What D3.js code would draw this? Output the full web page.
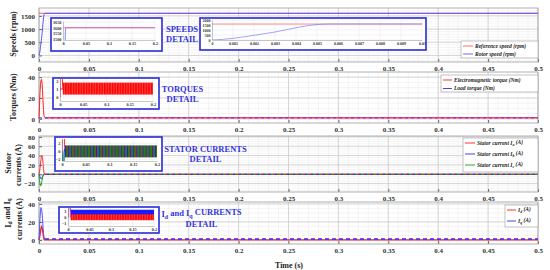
<!DOCTYPE html>
<html lang="en">
<head>
    <meta charset="UTF-8">
    <title>PMSM start-up: speeds, torques and currents</title>
    <script type="text/javascript" src="https://d3js.org/d3.v7.min.js"></script>
    <style>
        body { margin: 0; background: #fff; }
        svg { display: block; }
        text { font-family: "Liberation Serif", "Times New Roman", serif; font-weight: bold; }
    </style>
</head>
<body>
    <script>
        /* =========================== data ================================ */
        const tTicks = [0, 0.05, 0.1, 0.15, 0.2, 0.25, 0.3, 0.35, 0.4, 0.45, 0.5];
        const speedTicks = [0, 500, 1000, 1500];
        const torqueTicks = [0, 20, 40];
        const statorTicks = [-20, 0, 20, 40, 60, 80];
        const dqTicks = [0, 20, 40];

        // detail windows
        const detailTicks = [0, 0.05, 0.1, 0.15, 0.2];
        const startTicks = [0, 0.001, 0.002, 0.003, 0.004, 0.005, 0.006, 0.007, 0.008, 0.009, 0.01];
        const speedDetailTicks = [1500, 1550, 1600, 1650];
        const speedStartTicks = [0, 500, 1000, 1500, 2000];
        const torqueDetailTicks = [0, 1, 2];
        const statorDetailTicks = [-2, 0, 2];
        const dqDetailTicks = [-1, 0, 1];

        // start-up transient (s)
        const tStart    = [0, 0.0005, 0.001, 0.0015, 0.002, 0.0025, 0.003, 0.0035, 0.004, 0.0045, 0.005, 0.0055, 0.006];
        const rotorSpeed = [0, 60, 170, 310, 470, 630, 800, 1010, 1230, 1420, 1550, 1595, 1600];
        const emTorque   = [0, 12, 25, 33, 37, 38, 35, 28, 18, 9, 3, 1.5, 1];
        const statorIa   = [0, 5, 12, 22, 32, 38, 40, 36, 25, 12, 4, 1, 0];
        const statorIb   = [0, -2, -5, -8, -10, -10, -8, -5, -2, 0, 0.5, 0, 0];
        const statorIc   = [0, -12, -20, -25, -24, -20, -14, -8, -4, -1, 0, 0, 0];
        const currentId  = [0, 2, 5, 9, 13, 15, 14, 11, 7, 3, 1, 0, 0];
        const currentIq  = [0, 10, 24, 33, 36, 35, 31, 24, 15, 7, 3, 1.5, 1];

        // steady state after start-up (min, max of the ripple)
        const tSteady = 0.006;
        const refSpeed = 1600;
        const loadTorque = 1;
        const emTorqueBand = [0.3, 1.8];
        const statorBand = [-1.5, 1.5];
        const idBand = [-0.5, 0.5];
        const iqBand = [0.4, 1.3];

        const RED = "#ff1e1e", BLUE = "#2b2bff", GREEN = "#12a012", FRAME_BLUE = "#3535dc";

        /* =========================== svg ================================ */
        const svg = d3.select("body").append("svg")
                      .attr("width", 550)
                      .attr("height", 270);
        const defs = svg.append("defs");

        const x = d3.scaleLinear().domain([0, 0.5]).range([39, 538]);
        const fmt = d3.format("~g");
        const line = (xs, ys) => d3.line().x(d => xs(d[0])).y(d => ys(d[1]));
        const pts = (vals, tail) => tStart.map((t, i) => [t, vals[i]]).concat(tail ? [tail] : []);

        function addParts(t, parts) {
            let low = false;
            parts.forEach(([s, sub]) => {
                const ts = t.append("tspan").text(s);
                if (sub) {
                    ts.attr("font-size", "70%");
                    if (!low) { ts.attr("dy", "0.3em"); low = true; }
                } else if (low) {
                    ts.attr("dy", "-0.3em"); low = false;
                }
            });
            return t;
        }

        function drawPanel(p) {
            const y = d3.scaleLinear().domain(p.domain).range([p.bottom, p.top]);
            const g = svg.append("g");
            g.append("rect")
             .attr("x", x(0)).attr("y", p.top)
             .attr("width", x(0.5) - x(0)).attr("height", p.bottom - p.top)
             .attr("fill", "#fff");

            // minor grid
            g.append("g").selectAll("line")
             .data(d3.range(1, 50).map(i => i / 100))
             .join("line")
             .attr("x1", d => x(d)).attr("x2", d => x(d))
             .attr("y1", p.top).attr("y2", p.bottom)
             .attr("stroke", "#ececec").attr("stroke-width", 0.6);
            const first = Math.ceil(p.domain[0] / p.minor) * p.minor;
            g.append("g").selectAll("line")
             .data(d3.range(first, p.domain[1], p.minor))
             .join("line")
             .attr("x1", x(0)).attr("x2", x(0.5))
             .attr("y1", d => y(d)).attr("y2", d => y(d))
             .attr("stroke", "#ececec").attr("stroke-width", 0.6);

            // major grid
            g.append("g").selectAll("line")
             .data(tTicks)
             .join("line")
             .attr("x1", d => x(d)).attr("x2", d => x(d))
             .attr("y1", p.top).attr("y2", p.bottom)
             .attr("stroke", "#cdcdcd").attr("stroke-width", 0.8);
            g.append("g").selectAll("line")
             .data(p.ticks)
             .join("line")
             .attr("x1", x(0)).attr("x2", x(0.5))
             .attr("y1", d => y(d)).attr("y2", d => y(d))
             .attr("stroke", "#cdcdcd").attr("stroke-width", 0.8);

            const ax = g.append("g")
                        .attr("transform", `translate(0,${p.bottom})`)
                        .call(d3.axisBottom(x).tickValues(tTicks).tickFormat(fmt).tickSize(-3).tickPadding(4));
            const ay = g.append("g")
                        .attr("transform", `translate(${x(0)},0)`)
                        .call(d3.axisLeft(y).tickValues(p.ticks).tickFormat(fmt).tickSize(-3).tickPadding(4));
            [ax, ay].forEach(a => {
                a.select(".domain").remove();
                a.selectAll("line").attr("stroke", "#666");
                a.selectAll("text")
                 .attr("font-size", 7)
                 .attr("fill", "#333")
                 .attr("font-family", "Liberation Serif, serif")
                 .attr("font-weight", "bold");
            });

            g.append("rect")
             .attr("x", x(0)).attr("y", p.top)
             .attr("width", x(0.5) - x(0)).attr("height", p.bottom - p.top)
             .attr("fill", "none").attr("stroke", "#9c9c9c").attr("stroke-width", 0.8);
            return { g: svg.append("g"), y };
        }

        function drawInset(c) {
            const g = svg.append("g");
            g.append("rect")
             .attr("x", c.box[0]).attr("y", c.box[1])
             .attr("width", c.box[2] - c.box[0]).attr("height", c.box[3] - c.box[1])
             .attr("fill", "#fff").attr("stroke", FRAME_BLUE).attr("stroke-width", 1.7);
            const xi = d3.scaleLinear().domain(c.xdom).range([c.plot[0], c.plot[2]]);
            const yi = d3.scaleLinear().domain(c.ydom).range([c.plot[3], c.plot[1]]);

            g.append("g").selectAll("line").data(c.xticks).join("line")
             .attr("x1", d => xi(d)).attr("x2", d => xi(d))
             .attr("y1", c.plot[1]).attr("y2", c.plot[3])
             .attr("stroke", "#e4e4e4").attr("stroke-width", 0.5);
            g.append("g").selectAll("line").data(c.yticks).join("line")
             .attr("x1", c.plot[0]).attr("x2", c.plot[2])
             .attr("y1", d => yi(d)).attr("y2", d => yi(d))
             .attr("stroke", "#e4e4e4").attr("stroke-width", 0.5);

            const ax = g.append("g")
                        .attr("transform", `translate(0,${c.plot[3]})`)
                        .call(d3.axisBottom(xi).tickValues(c.xticks).tickFormat(fmt).tickSize(0).tickPadding(2));
            const ay = g.append("g")
                        .attr("transform", `translate(${c.plot[0]},0)`)
                        .call(d3.axisLeft(yi).tickValues(c.yticks).tickFormat(fmt).tickSize(0).tickPadding(1.5));
            [ax, ay].forEach(a => {
                a.select(".domain").attr("stroke", "#777").attr("stroke-width", 0.4);
                a.selectAll("text")
                 .attr("font-size", c.font || 4.3)
                 .attr("fill", "#333")
                 .attr("font-family", "Liberation Serif, serif")
                 .attr("font-weight", "bold");
            });

            defs.append("clipPath").attr("id", c.id)
                .append("rect")
                .attr("x", c.plot[0]).attr("y", c.plot[1])
                .attr("width", c.plot[2] - c.plot[0]).attr("height", c.plot[3] - c.plot[1]);
            const body = svg.append("g").attr("clip-path", `url(#${c.id})`);
            return { body, xi, yi };
        }

        function drawLegend(box, rows, lineX, textX, items) {
            svg.append("rect")
               .attr("x", box[0]).attr("y", box[1])
               .attr("width", box[2] - box[0]).attr("height", box[3] - box[1])
               .attr("fill", "#fff").attr("stroke", "#9a9a9a").attr("stroke-width", 0.6);
            items.forEach((it, i) => {
                svg.append("line")
                   .attr("x1", lineX[0]).attr("x2", lineX[1])
                   .attr("y1", rows[i]).attr("y2", rows[i])
                   .attr("stroke", it.color).attr("stroke-width", 0.9);
                const t = svg.append("text")
                             .attr("x", textX).attr("y", rows[i])
                             .attr("dy", "0.33em")
                             .attr("font-size", 5.5)
                             .attr("font-style", "italic")
                             .attr("fill", "#222");
                addParts(t, it.parts);
            });
        }

        function detailLabel(cx, y1, parts) {
            const t = svg.append("text")
                         .attr("x", cx).attr("y", y1)
                         .attr("text-anchor", "middle")
                         .attr("font-size", 8.5)
                         .attr("fill", FRAME_BLUE);
            addParts(t, parts);
            svg.append("text")
               .attr("x", cx).attr("y", y1 + 10)
               .attr("text-anchor", "middle")
               .attr("font-size", 8.5)
               .attr("fill", FRAME_BLUE)
               .text("DETAIL");
        }

        function yTitle(cx, cy, parts) {
            const t = svg.append("text")
                         .attr("transform", `translate(${cx},${cy}) rotate(-90)`)
                         .attr("text-anchor", "middle")
                         .attr("dominant-baseline", "central")
                         .attr("font-size", 8)
                         .attr("fill", "#222");
            addParts(t, parts);
        }

        /* =========================== 1. speeds ================================ */
        const p1 = drawPanel({ top: 8, bottom: 62, domain: [-250, 1800], ticks: speedTicks, minor: 100 });
        p1.g.append("path").datum([[0, refSpeed], [0.5, refSpeed]])
            .attr("d", line(x, p1.y)).attr("fill", "none").attr("stroke", "#ff5a5a").attr("stroke-width", 1);
        p1.g.append("path").datum(pts(rotorSpeed, [0.5, refSpeed]))
            .attr("d", line(x, p1.y)).attr("fill", "none").attr("stroke", "#5a5aff").attr("stroke-width", 1);

        const i1 = drawInset({ id: "c1", box: [51, 18, 162, 51], plot: [63, 21, 155, 40],
                               xdom: [0, 0.2], ydom: [1490, 1660], xticks: detailTicks, yticks: speedDetailTicks });
        i1.body.append("path").datum(pts(rotorSpeed, [0.2, refSpeed]))
            .attr("d", line(i1.xi, i1.yi)).attr("fill", "none").attr("stroke", "#6a6aff").attr("stroke-width", 0.8);
        i1.body.append("path").datum([[0, refSpeed], [0.2, refSpeed]])
            .attr("d", line(i1.xi, i1.yi)).attr("fill", "none").attr("stroke", "#ff6a8a").attr("stroke-width", 0.8);

        const i2 = drawInset({ id: "c2", box: [200, 18, 426, 50], plot: [212, 20, 422, 40], font: 4,
                               xdom: [0, 0.01], ydom: [0, 2000], xticks: startTicks, yticks: speedStartTicks });
        i2.body.append("path").datum([[0, refSpeed], [0.01, refSpeed]])
            .attr("d", line(i2.xi, i2.yi)).attr("fill", "none").attr("stroke", "#ff7070").attr("stroke-width", 0.8);
        i2.body.append("path").datum(pts(rotorSpeed, [0.01, refSpeed]))
            .attr("d", line(i2.xi, i2.yi)).attr("fill", "none").attr("stroke", "#8a8aff").attr("stroke-width", 0.8);

        detailLabel(182, 32, [["SPEEDS", false]]);
        drawLegend([461, 41, 538, 58], [46, 54], [463, 473], 475, [
            { color: "#ff5a5a", parts: [["Reference speed (rpm)", false]] },
            { color: "#5a5aff", parts: [["Rotor speed (rpm)", false]] }
        ]);

        /* =========================== 2. torques ================================ */
        const p2 = drawPanel({ top: 72, bottom: 123, domain: [-4, 45], ticks: torqueTicks, minor: 5 });
        p2.g.append("path").datum(pts(emTorque))
            .attr("d", line(x, p2.y)).attr("fill", "none").attr("stroke", RED).attr("stroke-width", 1);
        p2.g.append("rect")
            .attr("x", x(tSteady)).attr("width", x(0.5) - x(tSteady))
            .attr("y", p2.y(emTorqueBand[1])).attr("height", p2.y(emTorqueBand[0]) - p2.y(emTorqueBand[1]))
            .attr("fill", "#ff3c5a");
        p2.g.append("path").datum([[0, loadTorque], [0.5, loadTorque]])
            .attr("d", line(x, p2.y)).attr("fill", "none").attr("stroke", "#6a4adf")
            .attr("stroke-width", 1.3).attr("stroke-dasharray", "3,3");

        const i3 = drawInset({ id: "c3", box: [53, 78, 159, 109], plot: [60, 79, 153, 101],
                               xdom: [0, 0.2], ydom: [-0.5, 2.25], xticks: detailTicks, yticks: torqueDetailTicks });
        i3.body.append("path").datum([[0, loadTorque], [0.2, loadTorque]])
            .attr("d", line(i3.xi, i3.yi)).attr("fill", "none").attr("stroke", BLUE).attr("stroke-width", 0.8);
        i3.body.append("path").datum(pts(emTorque))
            .attr("d", line(i3.xi, i3.yi)).attr("fill", "none").attr("stroke", RED).attr("stroke-width", 0.9);
        const texT = defs.append("pattern").attr("id", "texT").attr("patternUnits", "userSpaceOnUse")
                         .attr("width", 2.6).attr("height", 20);
        texT.append("rect").attr("width", 2.6).attr("height", 20).attr("fill", "#ff0000");
        texT.append("rect").attr("x", 1.6).attr("width", 0.7).attr("height", 20).attr("fill", "#ff6a6a");
        i3.body.append("rect")
            .attr("x", i3.xi(tSteady)).attr("width", i3.xi(0.2) - i3.xi(tSteady))
            .attr("y", i3.yi(emTorqueBand[1])).attr("height", i3.yi(emTorqueBand[0]) - i3.yi(emTorqueBand[1]))
            .attr("fill", "url(#texT)");

        detailLabel(182.5, 92, [["TORQUES", false]]);
        drawLegend([441, 75, 538, 92], [80, 88.5], [443, 452], 454, [
            { color: RED, parts: [["Electromagnetic torque (Nm)", false]] },
            { color: BLUE, parts: [["Load torque (Nm)", false]] }
        ]);

        /* =========================== 3. stator currents ================================ */
        const p3 = drawPanel({ top: 136, bottom: 192, domain: [-38, 82], ticks: statorTicks, minor: 5 });
        [[statorIa, RED], [statorIb, BLUE], [statorIc, GREEN]].forEach(([v, col], k) => {
            p3.g.append("path").datum(pts(v))
                .attr("d", line(x, p3.y)).attr("fill", "none").attr("stroke", col).attr("stroke-width", 0.9);
            p3.g.append("path").datum([[tSteady, 0], [0.5, 0]])
                .attr("d", line(x, p3.y)).attr("fill", "none").attr("stroke", col)
                .attr("stroke-width", 1.5).attr("stroke-dasharray", "2,4").attr("stroke-dashoffset", -2 * k);
        });

        const i4 = drawInset({ id: "c4", box: [55, 137, 162, 171], plot: [62, 139, 157, 161],
                               xdom: [0, 0.2], ydom: [-2.4, 3.1], xticks: detailTicks, yticks: statorDetailTicks });
        [[statorIa, RED], [statorIb, BLUE], [statorIc, GREEN]].forEach(([v, col]) => {
            i4.body.append("path").datum(pts(v))
                .attr("d", line(i4.xi, i4.yi)).attr("fill", "none").attr("stroke", col).attr("stroke-width", 0.9);
        });
        const texS = defs.append("pattern").attr("id", "texS").attr("patternUnits", "userSpaceOnUse")
                         .attr("width", 3.1).attr("height", 20);
        texS.append("rect").attr("width", 3.1).attr("height", 20).attr("fill", "#0c8a0c");
        texS.append("rect").attr("x", 0).attr("width", 1).attr("height", 20).attr("fill", "#2020e0");
        texS.append("rect").attr("x", 1.1).attr("width", 0.6).attr("height", 20).attr("fill", "#e02020");
        i4.body.append("rect")
            .attr("x", i4.xi(tSteady)).attr("width", i4.xi(0.2) - i4.xi(tSteady))
            .attr("y", i4.yi(statorBand[1])).attr("height", i4.yi(statorBand[0]) - i4.yi(statorBand[1]))
            .attr("fill", "url(#texS)");

        detailLabel(205.5, 152, [["STATOR CURRENTS", false]]);
        drawLegend([463, 138, 538, 172], [143, 154, 165], [465, 475], 477, [
            { color: RED, parts: [["Stator current I", false], ["a", true], [" (A)", false]] },
            { color: BLUE, parts: [["Stator current I", false], ["b", true], [" (A)", false]] },
            { color: GREEN, parts: [["Stator current I", false], ["c", true], [" (A)", false]] }
        ]);

        /* =========================== 4. Id, Iq ================================ */
        const p4 = drawPanel({ top: 202, bottom: 244, domain: [-4.5, 42.2], ticks: dqTicks, minor: 5 });
        p4.g.append("path").datum(pts(currentId, [0.5, 0]))
            .attr("d", line(x, p4.y)).attr("fill", "none").attr("stroke", RED).attr("stroke-width", 1.3);
        p4.g.append("path").datum(pts(currentIq))
            .attr("d", line(x, p4.y)).attr("fill", "none").attr("stroke", "#5050ff").attr("stroke-width", 1);
        p4.g.append("path").datum([[tSteady, loadTorque], [0.5, loadTorque]])
            .attr("d", line(x, p4.y)).attr("fill", "none").attr("stroke", BLUE)
            .attr("stroke-width", 1.5).attr("stroke-dasharray", "4,3");

        const i5 = drawInset({ id: "c5", box: [59, 207, 159, 233], plot: [68, 208, 154, 226],
                               xdom: [0, 0.2], ydom: [-1.5, 1.6], xticks: detailTicks, yticks: dqDetailTicks });
        i5.body.append("path").datum(pts(currentIq))
            .attr("d", line(i5.xi, i5.yi)).attr("fill", "none").attr("stroke", BLUE).attr("stroke-width", 0.9);
        i5.body.append("path").datum(pts(currentId))
            .attr("d", line(i5.xi, i5.yi)).attr("fill", "none").attr("stroke", "#ff6a8a").attr("stroke-width", 0.9);
        i5.body.append("rect")
            .attr("x", i5.xi(tSteady)).attr("width", i5.xi(0.2) - i5.xi(tSteady))
            .attr("y", i5.yi(iqBand[1])).attr("height", i5.yi(iqBand[0]) - i5.yi(iqBand[1]))
            .attr("fill", "#1a1aff");
        i5.body.append("rect")
            .attr("x", i5.xi(tSteady)).attr("width", i5.xi(0.2) - i5.xi(tSteady))
            .attr("y", i5.yi(idBand[1])).attr("height", i5.yi(idBand[0]) - i5.yi(idBand[1]))
            .attr("fill", "url(#texT)");

        detailLabel(201.5, 217, [["I", false], ["d", true], [" and I", false], ["q", true], [" CURRENTS", false]]);
        drawLegend([505, 205, 538, 227], [210, 221], [507, 516], 518, [
            { color: RED, parts: [["I", false], ["d", true], [" (A)", false]] },
            { color: BLUE, parts: [["I", false], ["q", true], [" (A)", false]] }
        ]);

        /* =========================== axis titles ================================ */
        yTitle(13, 34, [["Speeds (rpm)", false]]);
        yTitle(13, 97, [["Torques (Nm)", false]]);
        yTitle(8, 163, [["Stator", false]]);
        yTitle(18, 165, [["currents (A)", false]]);
        yTitle(8, 213, [["I", false], ["d", true], [" and I", false], ["q", true]]);
        yTitle(19, 219, [["currents (A)", false]]);

        svg.append("text")
           .attr("x", 289).attr("y", 268)
           .attr("text-anchor", "middle")
           .attr("font-size", 8)
           .attr("fill", "#222")
           .text("Time (s)");
    </script>
</body>
</html>
